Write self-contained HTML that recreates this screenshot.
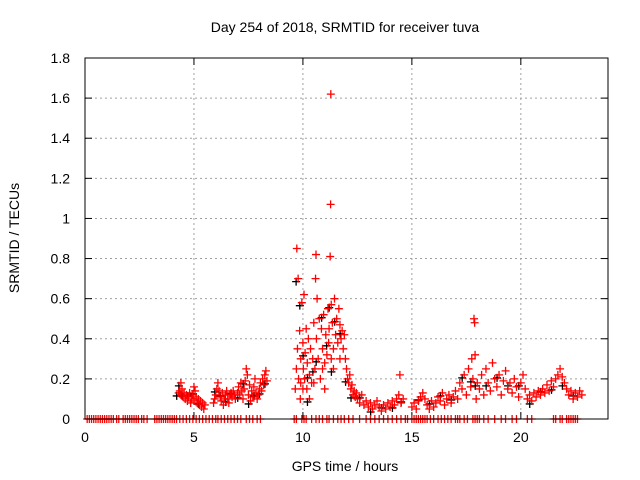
<!DOCTYPE html>
<html><head><meta charset="utf-8"><style>
body{margin:0;background:#fff}
svg{display:block;font-family:"Liberation Sans",sans-serif}
</style></head><body>
<svg id="chart" width="640" height="480">
<rect width="640" height="480" fill="#fff"/>
<text x="345" y="32" text-anchor="middle" font-size="14">Day 254 of 2018, SRMTID for receiver tuva</text>
<text x="345" y="471" text-anchor="middle" font-size="14">GPS time / hours</text>
<text transform="translate(19,238) rotate(-90)" text-anchor="middle" font-size="14">SRMTID / TECUs</text>
<g id="grid"></g><g id="ticks"></g><g id="pts"></g>
<rect x="85" y="58" width="523" height="361" fill="none" stroke="#000" stroke-width="1"/>
</svg>
<script>
const xTicks=[0,5,10,15,20];
const yTicks=[0,0.2,0.4,0.6,0.8,1,1.2,1.4,1.6,1.8];
const yTickLabels=["0","0.2","0.4","0.6","0.8","1","1.2","1.4","1.6","1.8"];
const times=[4.3,4.35,4.4,4.45,4.5,4.55,4.6,4.65,4.7,4.75,4.8,4.85,4.9,4.95,5.0,5.05,5.1,5.15,5.2,5.25,5.3,5.35,5.4,5.45,5.5,4.4,5.0,
5.9,5.95,6.0,6.05,6.1,6.15,6.2,6.25,6.3,6.35,6.4,6.45,6.5,6.55,6.6,6.65,6.7,6.75,6.8,6.85,6.9,
7.0,7.05,7.1,7.15,7.2,7.25,7.3,7.35,7.4,7.45,7.5,7.55,7.6,7.65,7.7,7.75,7.8,7.85,7.9,7.95,8.0,8.05,8.1,8.15,8.2,8.25,8.3,8.35,
9.65,9.7,9.72,9.75,9.78,9.8,9.85,9.88,9.9,9.95,10.0,10.02,10.05,10.08,10.1,10.15,10.18,10.2,10.25,10.3,10.35,10.4,10.45,10.5,10.55,10.58,10.6,10.62,10.65,10.7,10.75,10.8,10.85,10.9,10.95,11.0,11.05,11.1,11.15,11.18,11.2,11.25,11.27,11.28,11.3,11.35,11.4,11.45,11.5,11.55,11.6,11.65,11.7,11.75,11.8,11.85,11.9,11.95,12.0,12.05,12.1,12.15,12.2,12.25,12.3,12.35,12.4,12.45,
10.0,10.3,10.5,11.0,10.9,11.3,11.4,11.7,9.9,
12.5,12.6,12.7,12.8,12.9,13.0,13.1,13.2,13.3,13.4,13.5,13.6,13.7,13.8,13.9,14.0,14.1,14.2,14.3,14.4,14.45,14.5,14.6,
15.0,15.1,15.2,15.3,15.4,15.5,15.6,15.7,15.8,15.9,16.0,16.1,16.2,16.3,16.4,16.5,16.6,16.7,16.8,16.9,
17.0,17.1,17.2,17.3,17.4,17.5,17.6,17.7,17.75,17.8,17.85,17.88,17.9,17.95,18.0,
18.1,18.2,18.3,18.4,18.5,18.6,18.7,18.8,18.9,19.0,19.1,19.2,19.3,19.4,19.5,19.6,19.7,19.8,19.9,20.0,
20.1,20.2,20.3,20.4,20.5,20.6,20.7,20.8,20.9,21.0,
21.1,21.2,21.3,21.4,21.5,21.6,21.7,21.8,21.9,22.0,22.1,22.2,22.3,22.4,22.5,22.6,22.7,22.8];
const values=[.13,.14,.12,.15,.11,.13,.10,.12,.09,.11,.13,.08,.10,.12,.09,.14,.11,.08,.10,.07,.09,.06,.08,.05,.07,.18,.16,
.08,.10,.12,.15,.18,.14,.11,.09,.13,.07,.10,.12,.14,.10,.08,.12,.13,.11,.14,.12,.10,
.13,.16,.12,.18,.14,.10,.15,.19,.25,.22,.12,.17,.09,.14,.11,.16,.20,.13,.10,.12,.15,.18,.14,.20,.17,.22,.24,.19,
.15,.25,.85,.35,.70,.20,.44,.10,.30,.58,.38,.25,.62,.20,.33,.45,.15,.28,.40,.22,.35,.18,.30,.48,.25,.70,.82,.40,.60,.30,.50,.20,.45,.35,.52,.28,.42,.32,.55,.38,.45,.81,1.07,1.62,.57,.48,.35,.60,.42,.50,.38,.55,.47,.40,.44,.35,.42,.30,.25,.20,.18,.22,.15,.17,.12,.14,.11,.13,
.15,.10,.18,.15,.25,.30,.25,.30,.18,
.10,.08,.12,.07,.09,.06,.08,.05,.07,.09,.06,.04,.07,.05,.08,.06,.09,.07,.10,.12,.22,.08,.10,
.06,.08,.05,.09,.11,.13,.10,.07,.05,.09,.06,.08,.11,.09,.13,.07,.10,.12,.08,.11,
.14,.10,.18,.15,.22,.12,.25,.16,.30,.20,.50,.48,.32,.10,.18,
.15,.22,.12,.25,.18,.14,.28,.20,.16,.22,.12,.19,.24,.15,.18,.13,.20,.16,.11,.18,
.22,.15,.10,.12,.09,.13,.11,.14,.12,.15,
.13,.17,.14,.19,.16,.20,.22,.25,.21,.18,.15,.12,.14,.10,.13,.11,.14,.12];
const zeroTimes=[0.1,0.2,0.3,0.4,0.5,0.6,0.7,0.8,0.9,1.0,1.1,1.2,1.3,1.45,1.55,1.75,1.85,1.95,2.05,2.15,2.25,2.35,2.45,2.6,2.7,2.85,3.2,3.3,3.4,3.5,3.6,3.7,3.8,3.9,4.0,4.1,4.2,4.35,4.5,4.65,4.8,4.95,5.1,5.25,5.4,5.55,5.7,5.85,6.0,6.1,6.25,6.4,6.55,6.7,6.85,7.0,7.15,7.4,7.55,7.7,7.9,8.05,9.6,9.7,9.95,10.05,10.15,10.4,10.6,10.75,10.9,11.1,11.2,11.4,11.6,11.75,11.9,12.1,12.3,12.6,12.9,13.1,13.3,13.5,13.7,13.9,14.1,14.3,14.5,14.7,14.8,15.0,15.1,15.2,15.3,15.4,15.5,15.6,15.7,15.85,16.0,16.2,16.35,16.5,16.65,16.8,17.0,17.1,17.2,17.4,17.55,17.8,17.9,18.0,18.1,18.3,18.5,18.8,19.1,19.3,19.6,19.8,20.3,20.5,21.5,21.6,21.8,21.9,22.1,22.2,22.3,22.4,22.5,22.6];
const NS="http://www.w3.org/2000/svg";
const X=v=>85+v*(523/24), Y=v=>419-v*(361/1.8);
const grid=document.getElementById('grid'),tk=document.getElementById('ticks'),pts=document.getElementById('pts');
function mk(tag,at,parent){const e=document.createElementNS(NS,tag);for(const k in at)e.setAttribute(k,at[k]);parent.appendChild(e);return e;}
xTicks.forEach(t=>{const x=X(t);
 if(t>0){const g=mk('line',{x1:x,x2:x,y1:58,y2:419,stroke:'#a0a0a0','stroke-dasharray':'2,3'},grid);
 
 }
 mk('line',{x1:x,x2:x,y1:419,y2:412,stroke:'#000'},tk);mk('line',{x1:x,x2:x,y1:58,y2:65,stroke:'#000'},tk);
 const l=mk('text',{x:x,y:442,'text-anchor':'middle','font-size':'14'},tk);l.textContent=t;
 
 });
yTicks.forEach((t,i)=>{const y=Y(t);
 if(t>0){const g=mk('line',{x1:85,x2:608,y1:y,y2:y,stroke:'#a0a0a0','stroke-dasharray':'2,3'},grid);
 
 }
 mk('line',{x1:85,x2:92,y1:y,y2:y,stroke:'#000'},tk);mk('line',{x1:608,x2:601,y1:y,y2:y,stroke:'#000'},tk);
 const l=mk('text',{x:70,y:y+5,'text-anchor':'end','font-size':'14'},tk);l.textContent=yTickLabels[i];
 
 });
function plus(x,y,col){const p=mk('path',{d:`M${x-4},${y}h8M${x},${y-4}v8`,stroke:col,'stroke-width':'1.3',fill:'none'},pts);
 
 }
times.forEach((t,i)=>{if(i%5===0)plus(X(t)-2,Y(values[i])+3,'#000');});
times.forEach((t,i)=>plus(X(t),Y(values[i]),'#f00'));
zeroTimes.forEach(t=>plus(X(t),Y(0),'#f00'));
</script>
</body></html>
